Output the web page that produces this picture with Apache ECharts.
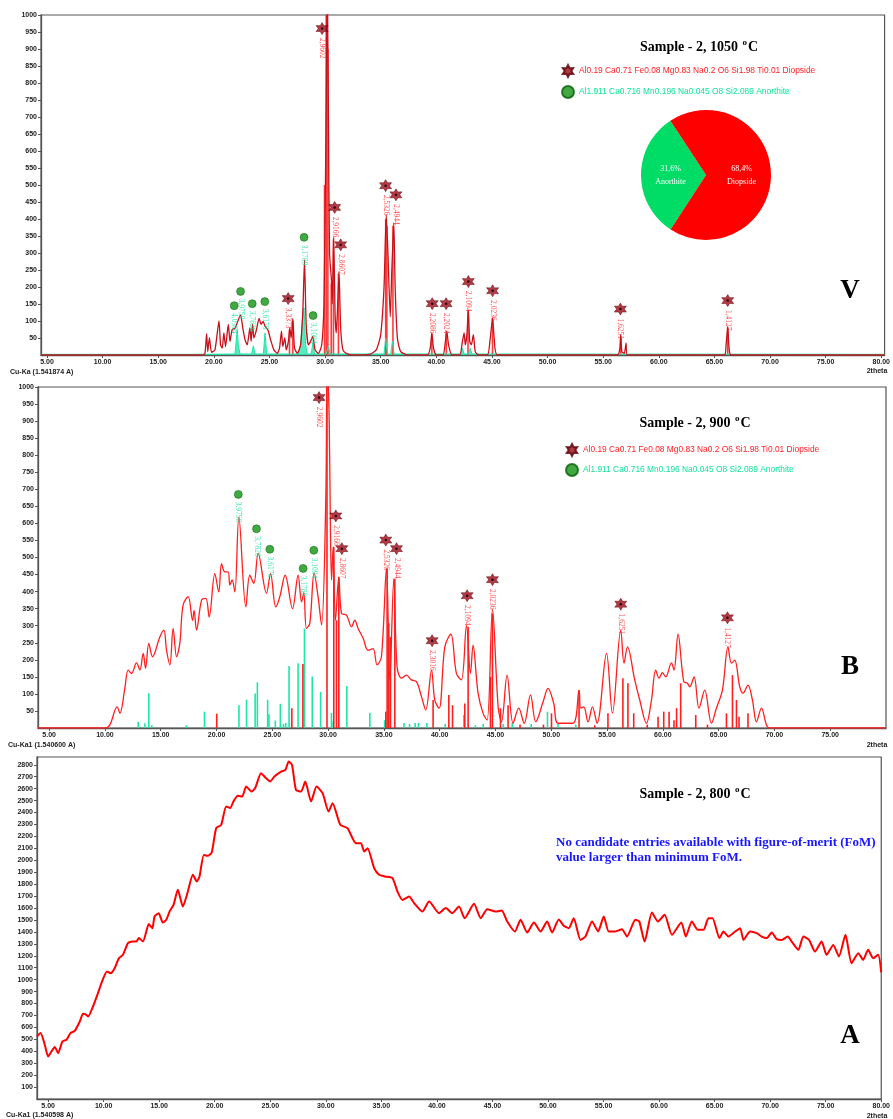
<!DOCTYPE html>
<html><head><meta charset="utf-8">
<script src="https://cdn.jsdelivr.net/npm/echarts@6/dist/echarts.min.js"></script>
<style>html,body{margin:0;padding:0;background:#fff}#c{width:893px;height:1119px}</style>
</head><body><div id="c"></div><script>
// ---------- tick labels ----------
const xTicksA = [5,10,15,20,25,30,35,40,45,50,55,60,65,70,75,80];
const xTicksB = [5,10,15,20,25,30,35,40,45,50,55,60,65,70,75];
const yTicks1000 = [50,100,150,200,250,300,350,400,450,500,550,600,650,700,750,800,850,900,950,1000];
const yTicks2800 = [100,200,300,400,500,600,700,800,900,1000,1100,1200,1300,1400,1500,1600,1700,1800,1900,2000,2100,2200,2300,2400,2500,2600,2700,2800];

const DIO = 'Al0.19 Ca0.71 Fe0.08 Mg0.83 Na0.2 O6 Si1.98 Ti0.01 Diopside';
const ANO = 'Al1.911 Ca0.716 Mn0.196 Na0.045 O8 Si2.089 Anorthite';

// ---------- panel V : 1050 C ----------
const v_profile = [[4.46,0],[19.0,0],[19.2,5],[19.35,63],[19.45,10],[19.6,50],[19.8,8],[20.1,15],[20.46,100],[20.6,30],[20.75,20],[20.9,65],[21.05,25],[21.3,90],[21.45,40],[21.65,75],[21.9,78],[22.1,95],[22.4,118],[22.6,80],[22.8,45],[23.0,30],[23.24,80],[23.35,40],[23.48,90],[23.6,50],[23.8,70],[24.07,108],[24.25,90],[24.43,99],[24.6,85],[24.88,72],[25.1,45],[25.4,15],[25.7,5],[25.9,20],[26.08,70],[26.2,25],[26.38,50],[26.5,15],[26.7,40],[26.83,80],[26.95,50],[27.1,108],[27.25,20],[27.5,5],[27.8,30],[28.0,130],[28.15,280],[28.3,90],[28.5,30],[28.7,40],[28.9,55],[29.1,15],[29.4,5],[29.7,30],[29.9,150],[30.03,496],[30.12,800],[30.2,1100],[30.3,700],[30.4,300],[30.57,221],[30.65,150],[30.77,347],[30.9,120],[31.0,65],[31.1,120],[31.25,246],[31.4,80],[31.6,15],[31.9,5],[32.5,0],[34.0,2],[34.6,15],[35.0,60],[35.3,200],[35.5,412],[35.65,300],[35.86,113],[36.0,250],[36.18,389],[36.3,200],[36.5,50],[36.8,10],[37.5,0],[39.2,0],[39.45,20],[39.6,65],[39.75,20],[40.0,0],[40.6,0],[40.8,35],[40.94,70],[41.1,30],[41.4,0],[42.1,0],[42.35,40],[42.5,65],[42.6,30],[42.75,60],[42.88,133],[43.0,40],[43.15,30],[43.33,60],[43.5,10],[43.8,0],[44.6,0],[44.85,50],[45.06,109],[45.2,50],[45.5,0],[56.3,0],[56.5,20],[56.58,60],[56.68,10],[56.9,5],[57.06,35],[57.15,0],[65.9,0],[66.05,30],[66.2,84],[66.3,30],[66.5,0],[80.3,0]];
const v_anorthite = [[4.46,2],[19,2],[21.9,3],[22.0,40],[22.1,75],[22.2,30],[22.35,3],[23.4,3],[23.55,27],[23.7,3],[24.45,3],[24.6,65],[24.75,3],[27.6,3],[27.8,30],[27.95,100],[28.1,139],[28.25,30],[28.4,3],[28.75,3],[28.9,36],[29.05,3],[30.1,3],[30.3,25],[30.45,3],[35.3,3],[35.45,50],[35.6,3],[35.9,3],[36.05,40],[36.2,3],[42.2,3],[42.35,20],[42.5,3],[42.9,3],[43.05,20],[43.2,3],[80.3,2]];
const v_dioSticks = [[26.8,75],[27.1,100],[29.95,500],[30.1,1000],[30.25,900],[30.55,210],[30.75,340],[31.2,240],[35.45,400],[35.55,380],[36.1,380],[39.6,60],[40.9,65],[42.85,130],[45.05,105],[56.58,55],[66.2,80]];
const v_stars = [[26.68,166,'3,3373'],[29.73,960,'2,9602'],[30.86,434,'2,9166'],[31.4,324,'2,8607'],[35.44,498,'2,5326'],[36.37,471,'2,4944'],[39.63,151,'2,2086'],[40.88,151,'2,2024'],[42.88,216,'2,1094'],[45.06,189,'2,0236'],[56.55,135,'1,6251'],[66.2,160,'1,4127']];
const v_circles = [[21.83,145,'4,0384'],[22.4,187,'3,9750'],[23.45,151,'3,7826'],[24.58,157,'3,6176'],[28.11,346,'3,1789'],[28.92,116,'3,1094']];
const pieNames = ['Anorthite','Diopside'];
const pieValues = [31.6, 68.4];

// ---------- panel B : 900 C ----------
const b_profile = [[4.0,0],[10.0,0],[10.44,9],[11.09,62],[11.34,43],[11.78,116],[12.08,170],[12.38,160],[12.83,191],[13.13,170],[13.43,219],[13.64,175],[13.93,248],[14.26,209],[14.92,267],[15.28,287],[15.52,228],[15.82,185],[16.11,292],[16.42,209],[16.71,248],[17.0,360],[17.46,385],[17.85,316],[17.99,345],[18.21,287],[18.66,375],[19.04,380],[19.34,326],[19.85,453],[20.2,399],[20.45,482],[20.74,458],[21.04,458],[21.19,419],[21.4,434],[21.64,399],[22.0,619],[22.63,355],[22.98,448],[23.34,424],[23.73,512],[24.48,395],[24.84,453],[25.31,355],[25.67,385],[26.15,448],[26.81,350],[27.31,448],[27.62,370],[27.82,396],[28.06,292],[28.36,307],[28.75,455],[29.1,385],[29.41,302],[29.79,668],[29.92,1080],[30.1,900],[30.2,600],[30.31,434],[30.45,531],[30.66,316],[30.96,443],[31.2,336],[31.65,331],[32.1,297],[32.39,316],[32.69,292],[33.14,263],[33.58,228],[34.03,233],[34.39,185],[34.78,209],[35.23,468],[35.53,141],[35.89,438],[36.18,180],[36.58,146],[37.02,155],[37.47,141],[37.92,136],[38.37,92],[38.75,53],[39.27,170],[39.56,82],[39.95,58],[40.46,238],[41.0,275],[41.5,160],[41.95,141],[42.4,300],[42.76,160],[42.99,243],[43.44,102],[43.89,43],[44.25,23],[44.73,348],[45.24,62],[45.54,18],[46.04,155],[46.58,14],[47.09,58],[47.57,14],[48.14,97],[48.61,18],[49.27,77],[49.71,116],[50.22,72],[50.61,14],[51.95,14],[52.49,111],[52.64,58],[52.91,62],[53.3,18],[53.69,62],[54.1,14],[54.95,219],[55.48,43],[56.23,287],[56.52,190],[56.83,238],[57.48,141],[57.93,82],[58.53,14],[58.98,82],[59.36,170],[59.66,146],[59.96,162],[60.26,150],[60.77,191],[61.0,170],[61.36,275],[61.87,136],[62.2,131],[62.41,121],[62.8,150],[63.24,58],[63.75,111],[64.36,14],[64.8,58],[65.34,111],[65.84,238],[66.15,190],[66.44,199],[66.89,121],[67.19,102],[67.63,126],[68.03,82],[68.39,18],[68.84,58],[69.29,9],[69.6,0],[80,0]];
const b_anoSticks = [[12.98,18],[13.58,14],[13.93,102],[14.2,8],[17.3,8],[18.92,48],[22.01,67],[22.69,83],[23.46,101],[23.66,134],[24.58,83],[24.7,40],[25.27,22],[25.72,71],[26.0,12],[26.2,15],[26.5,182],[27.31,190],[27.88,292],[28.58,151],[29.33,106],[30.3,44],[30.45,20],[31.68,123],[33.74,44],[35.07,23],[36.8,15],[37.3,12],[37.8,15],[38.1,15],[38.85,15],[40.5,12],[42.16,38],[43.2,8],[43.9,12],[45.7,12],[46.5,15],[48.2,12],[49.66,48],[50.6,12],[52.2,10]];
const b_dioSticks = [[20.02,42],[26.75,58],[27.74,188],[29.9,1000],[30.51,531],[30.75,316],[30.96,443],[35.17,48],[35.29,468],[35.44,307],[35.59,267],[35.98,438],[39.41,82],[40.82,97],[41.15,67],[42.25,72],[42.55,297],[44.55,150],[44.73,336],[45.45,58],[46.13,67],[47.2,10],[49.3,10],[50.02,43],[52.49,111],[53.9,8],[55.08,43],[56.42,146],[56.87,131],[57.39,43],[58.6,10],[59.57,33],[60.08,48],[60.56,48],[61.0,23],[61.23,58],[61.6,131],[62.95,38],[64.0,10],[65.7,43],[66.24,155],[66.6,82],[66.83,33],[67.63,43]];
const b_stars = [[29.19,969,'2,9602'],[30.69,622,'2,9166'],[31.23,526,'2,8607'],[35.17,551,'2,5326'],[36.13,526,'2,4944'],[39.32,256,'2,3016'],[42.46,388,'2,1094'],[44.73,435,'2,0236'],[56.23,363,'1,6251'],[65.79,323,'1,4127']];
const b_circles = [[21.95,685,'3,9750'],[23.58,584,'3,7826'],[24.78,524,'3,6176'],[27.76,468,'3,1789'],[28.72,521,'3,1094']];

// ---------- panel A : 800 C ----------
const a_profile = [[4.0,524],[4.32,552],[4.7,454],[5.0,356],[5.3,398],[5.6,435],[5.9,384],[6.29,482],[6.65,496],[7.01,552],[7.4,571],[7.85,649],[8.15,714],[8.45,705],[8.6,691],[9.04,775],[9.49,887],[9.8,971],[10.3,1068],[10.63,1054],[10.99,1096],[11.38,1180],[11.74,1208],[12.19,1306],[12.58,1319],[12.94,1319],[13.17,1348],[13.54,1319],[14.07,1465],[14.38,1431],[14.59,1529],[14.95,1557],[15.33,1478],[15.64,1501],[15.93,1570],[16.29,1626],[16.68,1752],[17.13,1612],[17.58,1738],[18.03,1878],[18.39,1822],[18.63,1864],[19.02,2045],[19.37,2037],[19.73,2065],[20.13,2269],[20.58,2297],[21.03,2450],[21.39,2437],[21.68,2492],[22.07,2540],[22.47,2534],[22.83,2617],[23.33,2575],[23.66,2609],[24.17,2729],[24.62,2688],[24.98,2660],[25.37,2701],[25.97,2743],[26.36,2757],[26.66,2827],[26.96,2799],[27.31,2590],[27.77,2575],[28.15,2659],[28.67,2492],[29.17,2617],[29.71,2562],[30.25,2408],[30.61,2478],[31.3,2297],[31.95,2269],[32.71,2143],[33.16,2143],[33.46,2073],[33.76,2101],[34.35,1934],[34.8,1878],[35.34,1864],[36.0,1850],[36.45,1738],[36.9,1668],[37.5,1696],[37.95,1641],[38.69,1570],[39.3,1654],[40.19,1557],[40.8,1599],[41.39,1557],[41.99,1612],[42.5,1515],[43.34,1635],[43.94,1515],[44.53,1590],[45.29,1570],[45.83,1579],[46.33,1487],[47.02,1403],[47.53,1501],[48.13,1395],[48.73,1478],[49.33,1403],[49.92,1487],[50.37,1395],[50.97,1504],[51.42,1452],[51.87,1431],[52.32,1515],[52.92,1333],[53.37,1361],[53.97,1487],[54.51,1403],[55.02,1529],[55.47,1403],[56.07,1403],[56.66,1423],[57.11,1361],[57.87,1501],[58.22,1487],[58.7,1319],[59.36,1562],[59.9,1487],[60.5,1543],[61.16,1375],[62.0,1478],[62.41,1361],[62.95,1487],[63.49,1417],[64.0,1417],[64.45,1515],[64.81,1515],[65.44,1348],[65.8,1403],[66.25,1361],[66.85,1403],[67.3,1431],[67.6,1333],[68.2,1403],[68.79,1389],[69.24,1361],[69.69,1348],[70.14,1395],[70.59,1339],[71.04,1333],[71.58,1361],[71.94,1319],[72.54,1250],[72.99,1361],[73.5,1333],[74.04,1235],[74.63,1319],[75.08,1208],[75.68,1291],[76.19,1194],[76.78,1375],[77.33,1138],[77.93,1222],[78.37,1166],[78.82,1250],[79.27,1180],[79.72,1208],[80.0,1060]];

// ---------- styling ----------
const STAR = 'path://M10 0L12.75 5.24L18.66 5L15.5 10L18.66 15L12.75 14.76L10 20L7.25 14.76L1.34 15L4.5 10L1.34 5L7.25 5.24Z';
const RED = '#ff1f1f', DARKRED = '#c8101a', CYAN = '#1ee6a8', TXTGREEN = '#12e39a';
const axisCol = '#555';

function xAxis(gi, min, max, ticks) {
  return {type:'value', gridIndex:gi, min, max,
    axisLine:{onZero:false, lineStyle:{color:axisCol, width:1.3}},
    axisTick:{customValues:ticks, length:3, lineStyle:{color:axisCol}},
    axisLabel:{customValues:ticks, formatter:v=>v.toFixed(2), fontSize:7, fontWeight:'bold', color:'#222', margin:4, fontFamily:'Liberation Sans'},
    splitLine:{show:false}};
}
function yAxis(gi, max, ticks) {
  return {type:'value', gridIndex:gi, min:0, max,
    axisLine:{show:true, lineStyle:{color:axisCol, width:1.3}},
    axisTick:{show:true, customValues:ticks, length:3, lineStyle:{color:axisCol}},
    axisLabel:{customValues:ticks, formatter:v=>String(v), fontSize:7, fontWeight:'bold', color:'#222', margin:4, fontFamily:'Liberation Sans'},
    splitLine:{show:false}};
}
function sticks(data, color, gi) {
  return {type:'bar', xAxisIndex:gi, yAxisIndex:gi, data, barWidth:1.6, barGap:'-100%', itemStyle:{color}, silent:true};
}
function markerLabel(color) {
  return {show:true, position:'bottom', distance:3, rotate:-90, align:'left', verticalAlign:'middle',
    formatter:p=>p.value[2], fontSize:7.5, color, fontFamily:'Liberation Serif'};
}
function stars(data, gi) {
  return [{type:'scatter', name:DIO, xAxisIndex:gi, yAxisIndex:gi, data, symbol:STAR, symbolSize:12,
      itemStyle:{color:'#a00a18', borderColor:'#5a0008', borderWidth:0.6}, label:markerLabel(RED), silent:true, z:5},
    {type:'scatter', xAxisIndex:gi, yAxisIndex:gi, data, symbol:'circle', symbolSize:2.5, itemStyle:{color:'#000'}, silent:true, z:6}];
}
function circles(data, gi) {
  return {type:'scatter', name:ANO, xAxisIndex:gi, yAxisIndex:gi, data, symbol:'circle', symbolSize:8,
    itemStyle:{color:'#119311', borderColor:'#0a5f0a', borderWidth:0.6}, label:markerLabel(TXTGREEN), silent:true, z:5};
}
function txt(text, x, y, opts) {
  return {type:'text', x, y, silent:true, style:Object.assign({text, fill:'#222', fontSize:7, fontWeight:'bold', fontFamily:'Liberation Sans', align:'left', verticalAlign:'middle'}, opts||{})};
}
function title(main, x, y) {
  return {type:'text', x, y, silent:true, style:{text:main, fill:'#000', fontSize:14, fontWeight:'bold', fontFamily:'Liberation Serif', align:'center', verticalAlign:'middle',
    rich:{s:{fontSize:9, fontWeight:'bold', fontFamily:'Liberation Serif', padding:[0,1,8,1]}}}};
}
function letter(t, x, y) {
  return {type:'text', x, y, silent:true, style:{text:t, fill:'#000', fontSize:27, fontWeight:'bold', fontFamily:'Liberation Serif', align:'center', verticalAlign:'middle'}};
}

const legendCommon = {orient:'vertical', itemWidth:12, itemHeight:12, selectedMode:false,
  textStyle:{fontSize:8.4, fontFamily:'Liberation Sans'},
  data:[{name:DIO, textStyle:{color:RED}}, {name:ANO, textStyle:{color:TXTGREEN}}]};

const option = {
  animation:false,
  backgroundColor:'#fff',
  grid:[
    {left:41, top:15, width:845, height:340, show:true, borderColor:'#555', borderWidth:1.2},
    {left:38, top:387, width:848, height:341, show:true, borderColor:'#555', borderWidth:1.2},
    {left:37, top:757, width:849, height:342, show:true, borderColor:'#555', borderWidth:1.2}
  ],
  xAxis:[xAxis(0,4.46,80.3,xTicksA), xAxis(1,4.0,80,xTicksB), xAxis(2,4.0,80,xTicksA)],
  yAxis:[yAxis(0,1000,yTicks1000), yAxis(1,1000,yTicks1000), yAxis(2,2865,yTicks2800)],
  legend:[Object.assign({left:556, top:59, itemGap:7}, legendCommon), Object.assign({left:560, top:438, itemGap:6}, legendCommon)],
  series:[
    {type:'line', xAxisIndex:0, yAxisIndex:0, data:v_anorthite, showSymbol:false, lineStyle:{color:CYAN, width:1}, areaStyle:{color:CYAN, opacity:0.75}, silent:true, z:2},
    sticks(v_dioSticks, '#ff3a3a', 0),
    {type:'line', xAxisIndex:0, yAxisIndex:0, data:v_profile, showSymbol:false, smooth:0.2, lineStyle:{color:DARKRED, width:1.3}, silent:true, z:3},
    ...stars(v_stars,0), circles(v_circles,0),
    {type:'pie', center:[706,175], radius:65, startAngle:237, silent:true,
      data:pieNames.map((n,i)=>({name:n, value:pieValues[i], itemStyle:{color:i===0?'#00dd66':'#ff0000'}})),
      label:{show:true, position:'inside', formatter:p=>String(p.value).replace('.',',')+'%\n'+p.name, color:'#fff', fontSize:8, lineHeight:13, fontFamily:'Liberation Serif'},
      labelLine:{show:false}},

    sticks(b_anoSticks, CYAN, 1),
    sticks(b_dioSticks, RED, 1),
    {type:'line', xAxisIndex:1, yAxisIndex:1, data:b_profile, showSymbol:false, smooth:0.35, lineStyle:{color:RED, width:1.3}, silent:true, z:3},
    ...stars(b_stars,1), circles(b_circles,1),

    {type:'line', xAxisIndex:2, yAxisIndex:2, data:a_profile, showSymbol:false, smooth:0.2, lineStyle:{color:'#ff0000', width:2}, silent:true, z:3}
  ],
  graphic:[
    title('Sample - 2, 1050 {s|o}C', 699, 47),
    title('Sample - 2, 900 {s|o}C', 695, 423),
    title('Sample - 2, 800 {s|o}C', 695, 794),
    letter('V', 850, 291), letter('B', 850, 667), letter('A', 850, 1036),
    txt('Cu-Ka (1.541874 A)', 10, 372),
    txt('2theta', 877, 371, {align:'center'}),
    txt('Cu-Ka1 (1.540600 A)', 8, 745),
    txt('2theta', 877, 745, {align:'center'}),
    txt('Cu-Ka1 (1.540598 A)', 6, 1115),
    txt('2theta', 877, 1116, {align:'center'}),
    txt('No candidate entries available with figure-of-merit (FoM)', 556, 843, {fill:'#1717ff', fontSize:13, fontFamily:'Liberation Serif'}),
    txt('value larger than minimum FoM.', 556, 858, {fill:'#1717ff', fontSize:13, fontFamily:'Liberation Serif'})
  ]
};
const chart = echarts.init(document.getElementById('c'), null, {renderer:'canvas'});
chart.setOption(option);
</script></body></html>
